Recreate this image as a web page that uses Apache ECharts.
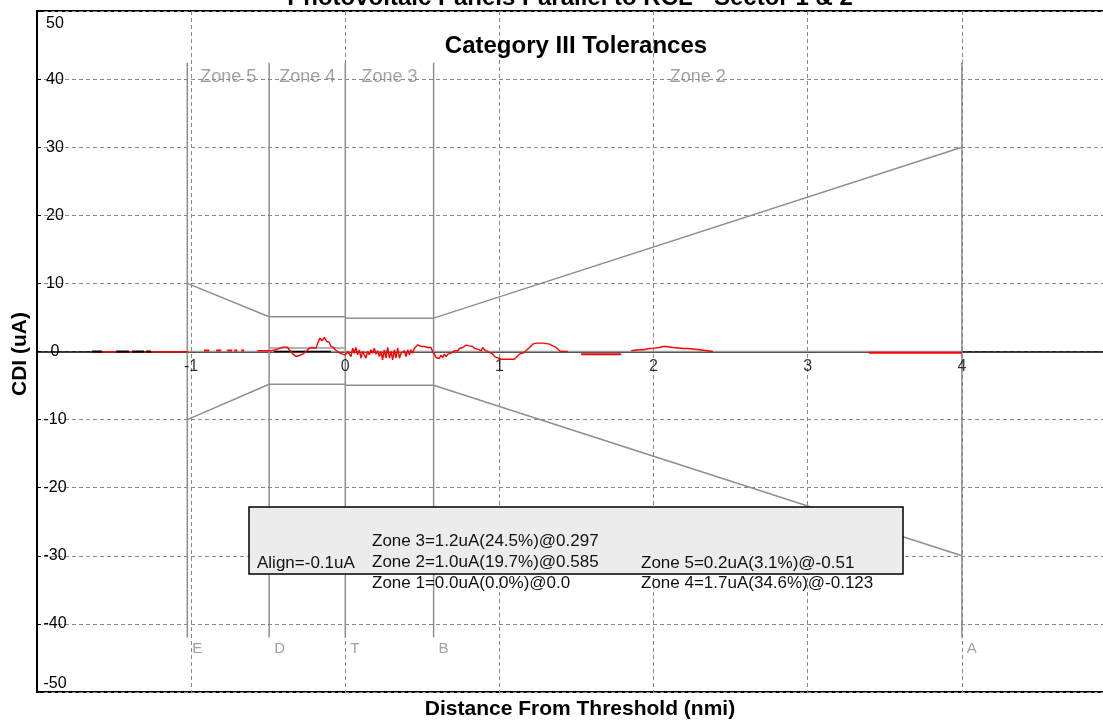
<!DOCTYPE html>
<html><head><meta charset="utf-8">
<script src="https://cdn.jsdelivr.net/npm/echarts@6/dist/echarts.min.js"></script>
<style>html,body{margin:0;padding:0;background:#fff}#chart{width:1103px;height:720px}</style>
</head><body><div id="chart"></div>
<script>
// ---------- texts ----------
const chartTitle = 'Photovoltaic Panels Parallel to RCL - Sector 1 & 2';
const subTitle = 'Category III Tolerances';
const xAxisTitle = 'Distance From Threshold (nmi)';
const yAxisTitle = 'CDI (uA)';

// ---------- axes ----------
const xRange = [-2, 5];
const xStep = 1;
const xTickLabels = [-1, 0, 1, 2, 3, 4];
const yRange = [-50, 50];
const yStep = 10;

// ---------- zones ----------
const zoneLetters = ['E', 'D', 'T', 'B', 'A'];
const zonePoints = [-1.025, -0.494, 0, 0.573, 4];
const zoneNames = ['Zone 5', 'Zone 4', 'Zone 3', 'Zone 2'];
const zoneLineEnds = [42.4, -42];
const zoneNameLevel = 40.3;
const zoneLetterLevel = -43.7;

// ---------- tolerance envelope (Category III) ----------
const tolUpperA = [[-1.025, 10], [-0.494, 5.1], [0, 5.1]];
const tolUpperB = [[0, 4.9], [0.573, 4.9], [4, 30]];
const tolLowerA = [[-1.025, -10], [-0.494, -4.8], [0, -4.8]];
const tolLowerB = [[0, -4.95], [0.573, -4.95], [4, -30]];
const centerLine = [[-1.025, 0], [4, 0]];
const zone4Level = [[-0.494, 0.5], [0, 0.5]];
const zone4Base = [[-0.461, 0], [-0.093, 0]];

// ---------- CDI trace ----------
const traceStart = [[-1.643, -0.05], [-1.02, -0.05]];
const traceBlackMarks = [[-1.643, -1.578], [-1.487, -1.403], [-1.383, -1.305], [-1.292, -1.26]];
const traceDashes = [[-0.916, -0.883], [-0.838, -0.805], [-0.766, -0.734], [-0.721, -0.701], [-0.675, -0.656]];
const traceDashLevel = 0.15;
const traceMain = [
  [-0.571, 0.1], [-0.489, 0.1], [-0.45, 0.25], [-0.407, 0.64], [-0.374, 0.64], [-0.364, 0.25],
  [-0.338, -0.39], [-0.32, -0.74], [-0.299, -0.59], [-0.277, -0.39], [-0.255, 0], [-0.234, 0.49],
  [-0.212, 0.59], [-0.19, 0.49], [-0.179, 1.23], [-0.164, 1.96], [-0.152, 1.57], [-0.136, 2.06],
  [-0.121, 1.47], [-0.104, 1.37], [-0.093, 0.74], [-0.078, 0.59], [-0.065, 0.25], [-0.05, 0],
  [-0.035, -0.25], [-0.017, -0.39], [0, -0.49],
  [0.004, -0.49], [0.015, 0], [0.026, 0.25], [0.037, -0.74], [0.048, 0.49], [0.058, -0.25],
  [0.069, 0.59], [0.08, -0.49], [0.091, 0.25], [0.102, -0.98], [0.113, 0], [0.123, -0.49],
  [0.134, -0.98], [0.145, 0], [0.156, -0.49], [0.167, 0.25], [0.177, -0.25], [0.188, 0.49],
  [0.199, -0.39], [0.21, 0.1], [0.221, -0.74], [0.232, 0], [0.242, -1.23], [0.253, 0.25],
  [0.264, -0.98], [0.275, 0.59], [0.286, -0.98], [0.297, 0], [0.307, -1.23], [0.318, 0.25],
  [0.329, -0.98], [0.34, 0.49], [0.351, -0.98], [0.362, -0.25], [0.372, -0.49], [0.383, 0.1],
  [0.394, -0.74], [0.405, 0.25], [0.416, -0.49], [0.426, 0.25], [0.437, -0.25], [0.448, 0.49],
  [0.459, 0.49], [0.47, 0.98], [0.481, 1.08], [0.491, 0.74], [0.502, 0.49], [0.513, 0.74],
  [0.524, 0.49], [0.535, 0.59], [0.545, 0.49], [0.556, 0.59], [0.567, 0], [0.578, -0.39],
  [0.589, -0.88], [0.6, -0.64], [0.61, -1.03], [0.621, -0.54], [0.632, -0.88], [0.643, -0.39],
  [0.654, -0.74], [0.665, -0.39], [0.675, -0.64], [0.686, -0.25], [0.697, -0.39], [0.708, 0.1],
  [0.719, 0.34], [0.73, 0.1], [0.74, 0.44], [0.751, 0.25], [0.762, 0.59], [0.773, 0.83],
  [0.784, 0.93], [0.794, 0.74], [0.805, 0.83], [0.816, 0.59], [0.827, 0.74], [0.838, 0.44],
  [0.849, 0.59], [0.859, 0.34], [0.87, 0.44], [0.881, 0.1], [0.892, 0.59], [0.903, 0.25],
  [0.913, 0.1], [0.924, 0], [0.935, -0.15], [0.957, -0.39], [0.968, -0.74], [0.978, -0.88],
  [1.011, -1.13], [1.097, -1.13], [1.108, -0.88], [1.13, -0.39], [1.151, -0.25], [1.162, -0.39],
  [1.173, 0.1], [1.195, 0.59], [1.216, 1.08], [1.238, 1.23], [1.281, 1.23], [1.325, 1.08],
  [1.346, 0.83], [1.368, 0.59], [1.39, 0.1], [1.411, 0], [1.444, 0]
];
const traceFlat1 = [[1.53, -0.39], [1.79, -0.39]];
const traceHump = [
  [1.855, 0.1], [1.909, 0.25], [1.931, 0.25], [1.974, 0.44], [2.006, 0.49], [2.039, 0.59],
  [2.061, 0.74], [2.082, 0.74], [2.126, 0.59], [2.191, 0.44], [2.223, 0.44], [2.234, 0.25],
  [2.299, 0.25], [2.31, 0], [2.385, 0]
];
const traceFlat2 = [[3.396, -0.2], [4.0, -0.2]];

// ---------- summary box ----------
const summaryAlign = 'Align=-0.1uA';
const summaryMid = ['Zone 3=1.2uA(24.5%)@0.297', 'Zone 2=1.0uA(19.7%)@0.585', 'Zone 1=0.0uA(0.0%)@0.0'];
const summaryRight = ['Zone 5=0.2uA(3.1%)@-0.51', 'Zone 4=1.7uA(34.6%)@-0.123'];

// ---------- build ----------
const FONT = 'Liberation Sans, Arial, sans-serif';
const GRAY = '#8e8e8e';
const chart = echarts.init(document.getElementById('chart'), null, { renderer: 'canvas' });

function lineSeries(data, color, width, z) {
  return {
    type: 'line', data: data, symbol: 'none', silent: true, animation: false,
    lineStyle: { color: color, width: width }, z: z, connectNulls: false
  };
}

const series = [];
zonePoints.forEach(function (x) {
  series.push(lineSeries([[x, zoneLineEnds[0]], [x, zoneLineEnds[1]]], GRAY, 1.5, 3));
});
[tolUpperA, tolUpperB, tolLowerA, tolLowerB].forEach(function (d) {
  series.push(lineSeries(d, GRAY, 1.5, 3));
});
series.push(lineSeries(centerLine, '#9a9a9a', 1.5, 3));
series.push(lineSeries(zone4Level, '#9a9a9a', 1.5, 3));
series.push(lineSeries(zone4Base, '#000', 1.5, 4));
series.push(lineSeries(traceStart, '#ff0000', 1.5, 5));
traceBlackMarks.forEach(function (r) {
  series.push(lineSeries([[r[0], 0], [r[1], 0]], '#000', 2, 6));
});
traceDashes.forEach(function (r) {
  series.push(lineSeries([[r[0], traceDashLevel], [r[1], traceDashLevel]], '#ff0000', 2, 5));
});
[traceMain, traceFlat1, traceHump, traceFlat2].forEach(function (d, i) {
  series.push(lineSeries(d, '#ff0000', (i === 1 || i === 3) ? 2 : 1.4, 5));
});
// zone names
series.push({
  type: 'scatter', symbolSize: 0, silent: true, animation: false, z: 7,
  data: zoneNames.map(function (n, i) {
    return { name: n, value: [(zonePoints[i] + zonePoints[i + 1]) / 2, zoneNameLevel] };
  }),
  label: { show: true, position: 'inside', formatter: '{b}', color: '#8a8a8a', fontSize: 18, fontFamily: FONT }
});
// zone letters
series.push({
  type: 'scatter', symbolSize: 0, silent: true, animation: false, z: 7,
  data: zoneLetters.map(function (n, i) { return { name: n, value: [zonePoints[i], zoneLetterLevel] }; }),
  label: { show: true, position: 'right', distance: 5, formatter: '{b}', color: '#8a8a8a', fontSize: 15, fontFamily: FONT }
});
// x tick labels on the zero line
series.push({
  type: 'scatter', symbolSize: 0, silent: true, animation: false, z: 7,
  data: xTickLabels.map(function (v) { return { name: String(v), value: [v, 0] }; }),
  label: { show: true, position: 'bottom', distance: 7, formatter: '{b}', color: '#000', fontSize: 16, fontFamily: FONT }
});

const textEls = [];
function txt(s, x, y, font, opts) {
  textEls.push({
    type: 'text', z: 101, silent: true, x: x, y: y,
    style: Object.assign({ text: s, font: font, fill: '#111', align: 'left', verticalAlign: 'middle' }, opts || {})
  });
}
txt(chartTitle, 570, -1.5, 'bold 24px ' + FONT, { align: 'center', fill: '#000' });
txt(subTitle, 576, 46.5, 'bold 24px ' + FONT, { align: 'center', fill: '#000' });
txt(xAxisTitle, 580, 709.5, 'bold 21px ' + FONT, { align: 'center', fill: '#000' });
textEls.push({
  type: 'text', z: 101, silent: true, x: 20.5, y: 354, rotation: Math.PI / 2,
  style: { text: yAxisTitle, font: 'bold 21px ' + FONT, fill: '#000', align: 'center', verticalAlign: 'middle' }
});
txt(summaryAlign, 257, 563, '17px ' + FONT);
summaryMid.forEach(function (s, i) { txt(s, 372, 541 + i * 21, '17px ' + FONT); });
summaryRight.forEach(function (s, i) { txt(s, 641, 563 + i * 20.5, '17px ' + FONT); });

const option = {
  animation: false,
  backgroundColor: '#fff',
  grid: {
    left: 37, right: -13, top: 11, bottom: 28,
    show: true, borderColor: '#000', borderWidth: 2, backgroundColor: 'transparent',
    outerBoundsMode: 'none', containLabel: false
  },
  xAxis: {
    type: 'value', min: xRange[0], max: xRange[1], interval: xStep,
    axisLine: { show: true, onZero: true, lineStyle: { color: '#000', width: 1.5 } },
    axisTick: { show: false },
    axisLabel: { show: false },
    splitLine: { show: true, lineStyle: { color: '#888', type: [4, 3], width: 1 } }
  },
  yAxis: {
    type: 'value', min: yRange[0], max: yRange[1], interval: yStep,
    axisLine: { show: true, onZero: false, lineStyle: { color: '#000', width: 2 } },
    axisTick: { show: true, inside: true, length: 4, lineStyle: { color: '#000' } },
    axisLabel: {
      inside: true, align: 'center', margin: 18, fontSize: 16, color: '#000', fontFamily: FONT,
      verticalAlignMaxLabel: 'top', verticalAlignMinLabel: 'bottom',
      formatter: function (v) { return v === yRange[1] ? '{top|' + v + '}' : String(v); },
      rich: { top: { fontSize: 16, fontFamily: FONT, color: '#000', padding: [5, 0, 0, 0] } }
    },
    splitLine: { show: true, lineStyle: { color: '#888', type: [4, 3], width: 1 } }
  },
  series: series,
  graphic: [
    {
      type: 'rect', z: 100, silent: true,
      shape: { x: 249, y: 507, width: 654, height: 67 },
      style: { fill: '#ececec', stroke: '#000', lineWidth: 1.5 }
    }
  ].concat(textEls)
};
chart.setOption(option);
</script>
</body></html>
